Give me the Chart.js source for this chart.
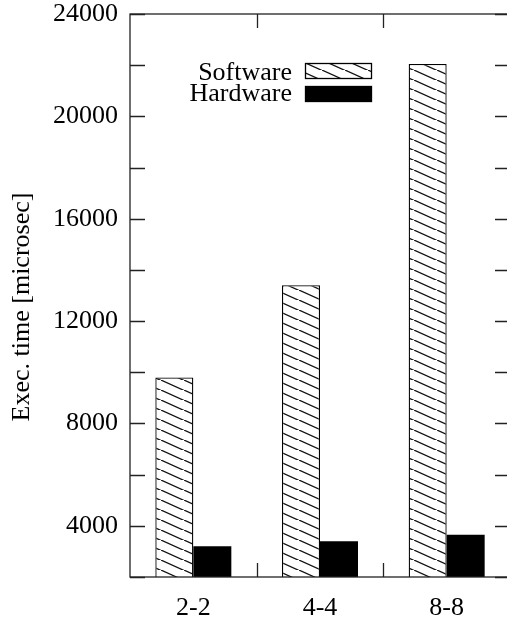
<!DOCTYPE html>
<html>
<head>
<meta charset="utf-8">
<script src="https://cdn.jsdelivr.net/npm/chart.js@4.4.0/dist/chart.umd.min.js"></script>
<style>
  html, body { margin: 0; padding: 0; overflow: hidden; background: #fff; width: 507px; height: 621px; }
  canvas { display: block; }
</style>
</head>
<body>
<canvas id="c" width="520" height="621"></canvas>
<script>
// Configurations measured
const categories = ['2-2', '4-4', '8-8'];
// Execution times in microseconds
const softwareTimes = [9800, 13400, 22050];
const hardwareTimes = [3200, 3400, 3650];
const seriesNames = ['Software', 'Hardware'];
const yAxisTitle = 'Exec. time [microsec]';
const yMin = 2000, yMax = 24000, yStep = 2000, yLabelStep = 4000;

const FONT = '"Liberation Serif", "Times New Roman", serif';

// Diagonal "\\" hatch used for the software bars
function makeHatch() {
  const w = 23, h = 10.5;
  const tile = document.createElement('canvas');
  tile.width = w; tile.height = h;
  const t = tile.getContext('2d');
  t.fillStyle = '#fff';
  t.fillRect(0, 0, w, h);
  t.strokeStyle = '#111';
  t.lineWidth = 1.2;
  t.beginPath();
  for (let k = -1; k <= 1; k++) {
    t.moveTo(k * w, k * h);
    t.lineTo((k + 1) * w, (k + 1) * h);
  }
  t.stroke();
  return t.createPattern(tile, 'repeat');
}

const hatch = makeHatch();

// Gnuplot-style frame with inward ticks, key and rotated y label
const framePlugin = {
  id: 'frame',
  afterDatasetsDraw(chart) {
    const { ctx, chartArea: a } = chart;
    const xs = chart.scales.x, ys = chart.scales.y;
    ctx.save();
    ctx.strokeStyle = '#222';
    ctx.lineWidth = 1.3;
    ctx.strokeRect(a.left, a.top, a.right - a.left, a.bottom - a.top);

    ctx.beginPath();
    const yTick = 15;
    ys.ticks.forEach(t => {
      const py = Math.round(ys.getPixelForValue(t.value)) + 0.5;
      ctx.moveTo(a.left, py); ctx.lineTo(a.left + yTick, py);
      ctx.moveTo(a.right, py); ctx.lineTo(a.right - yTick, py);
    });
    const xTick = 14;
    for (let i = 0; i < categories.length - 1; i++) {
      const px = Math.round((xs.getPixelForValue(i) + xs.getPixelForValue(i + 1)) / 2) + 0.5;
      ctx.moveTo(px, a.bottom); ctx.lineTo(px, a.bottom - xTick);
      ctx.moveTo(px, a.top); ctx.lineTo(px, a.top + xTick);
    }
    ctx.stroke();

    // key: label text right-aligned, sample box to its right
    ctx.font = '26px ' + FONT;
    ctx.textAlign = 'right';
    ctx.textBaseline = 'alphabetic';
    const keyTextRight = 292, boxLeft = 305, boxW = 67, boxH = 16;
    const rows = [{ base: 80, box: 63 }, { base: 101, box: 86 }];
    chart.data.datasets.forEach((ds, i) => {
      ctx.fillStyle = '#000';
      ctx.fillText(ds.label, keyTextRight, rows[i].base);
      ctx.fillStyle = ds.backgroundColor;
      ctx.fillRect(boxLeft, rows[i].box, boxW, boxH);
      ctx.strokeStyle = '#000';
      ctx.lineWidth = 1.3;
      ctx.strokeRect(boxLeft + 0.5, rows[i].box + 0.5, boxW - 1, boxH - 1);
    });

    // y axis label
    ctx.translate(29, 307);
    ctx.rotate(-Math.PI / 2);
    ctx.textAlign = 'center';
    ctx.fillStyle = '#000';
    ctx.fillText(yAxisTitle, 0, 0);
    ctx.restore();
  }
};

new Chart(document.getElementById('c'), {
  type: 'bar',
  data: {
    labels: categories,
    datasets: [
      {
        label: seriesNames[0],
        data: softwareTimes,
        backgroundColor: hatch,
        borderColor: '#000',
        borderWidth: 1.3,
        borderSkipped: false,
        categoryPercentage: 0.6,
        barPercentage: 1.0
      },
      {
        label: seriesNames[1],
        data: hardwareTimes,
        backgroundColor: '#000',
        borderColor: '#000',
        borderWidth: 0,
        categoryPercentage: 0.6,
        barPercentage: 1.0
      }
    ]
  },
  options: {
    responsive: false,
    animation: false,
    devicePixelRatio: 1,
    layout: { padding: { left: 0, top: 14, right: 10, bottom: 0 } },
    plugins: { legend: { display: false }, tooltip: { enabled: false } },
    scales: {
      x: {
        grid: { display: false, drawTicks: false },
        border: { display: false },
        ticks: { color: '#000', font: { family: FONT, size: 26 }, padding: 16, maxRotation: 0 },
        afterFit(scale) { scale.height = 44; scale.paddingLeft = 0; scale.paddingRight = 0; }
      },
      y: {
        min: yMin,
        max: yMax,
        grid: { display: false, drawTicks: false },
        border: { display: false },
        ticks: {
          stepSize: yStep,
          color: '#000',
          font: { family: FONT, size: 26 },
          padding: 12,
          callback: v => (v % yLabelStep === 0 ? String(v) : '')
        },
        afterFit(scale) { scale.width = 130; scale.paddingTop = 0; scale.paddingBottom = 0; }
      }
    }
  },
  plugins: [framePlugin]
});
</script>
</body>
</html>
